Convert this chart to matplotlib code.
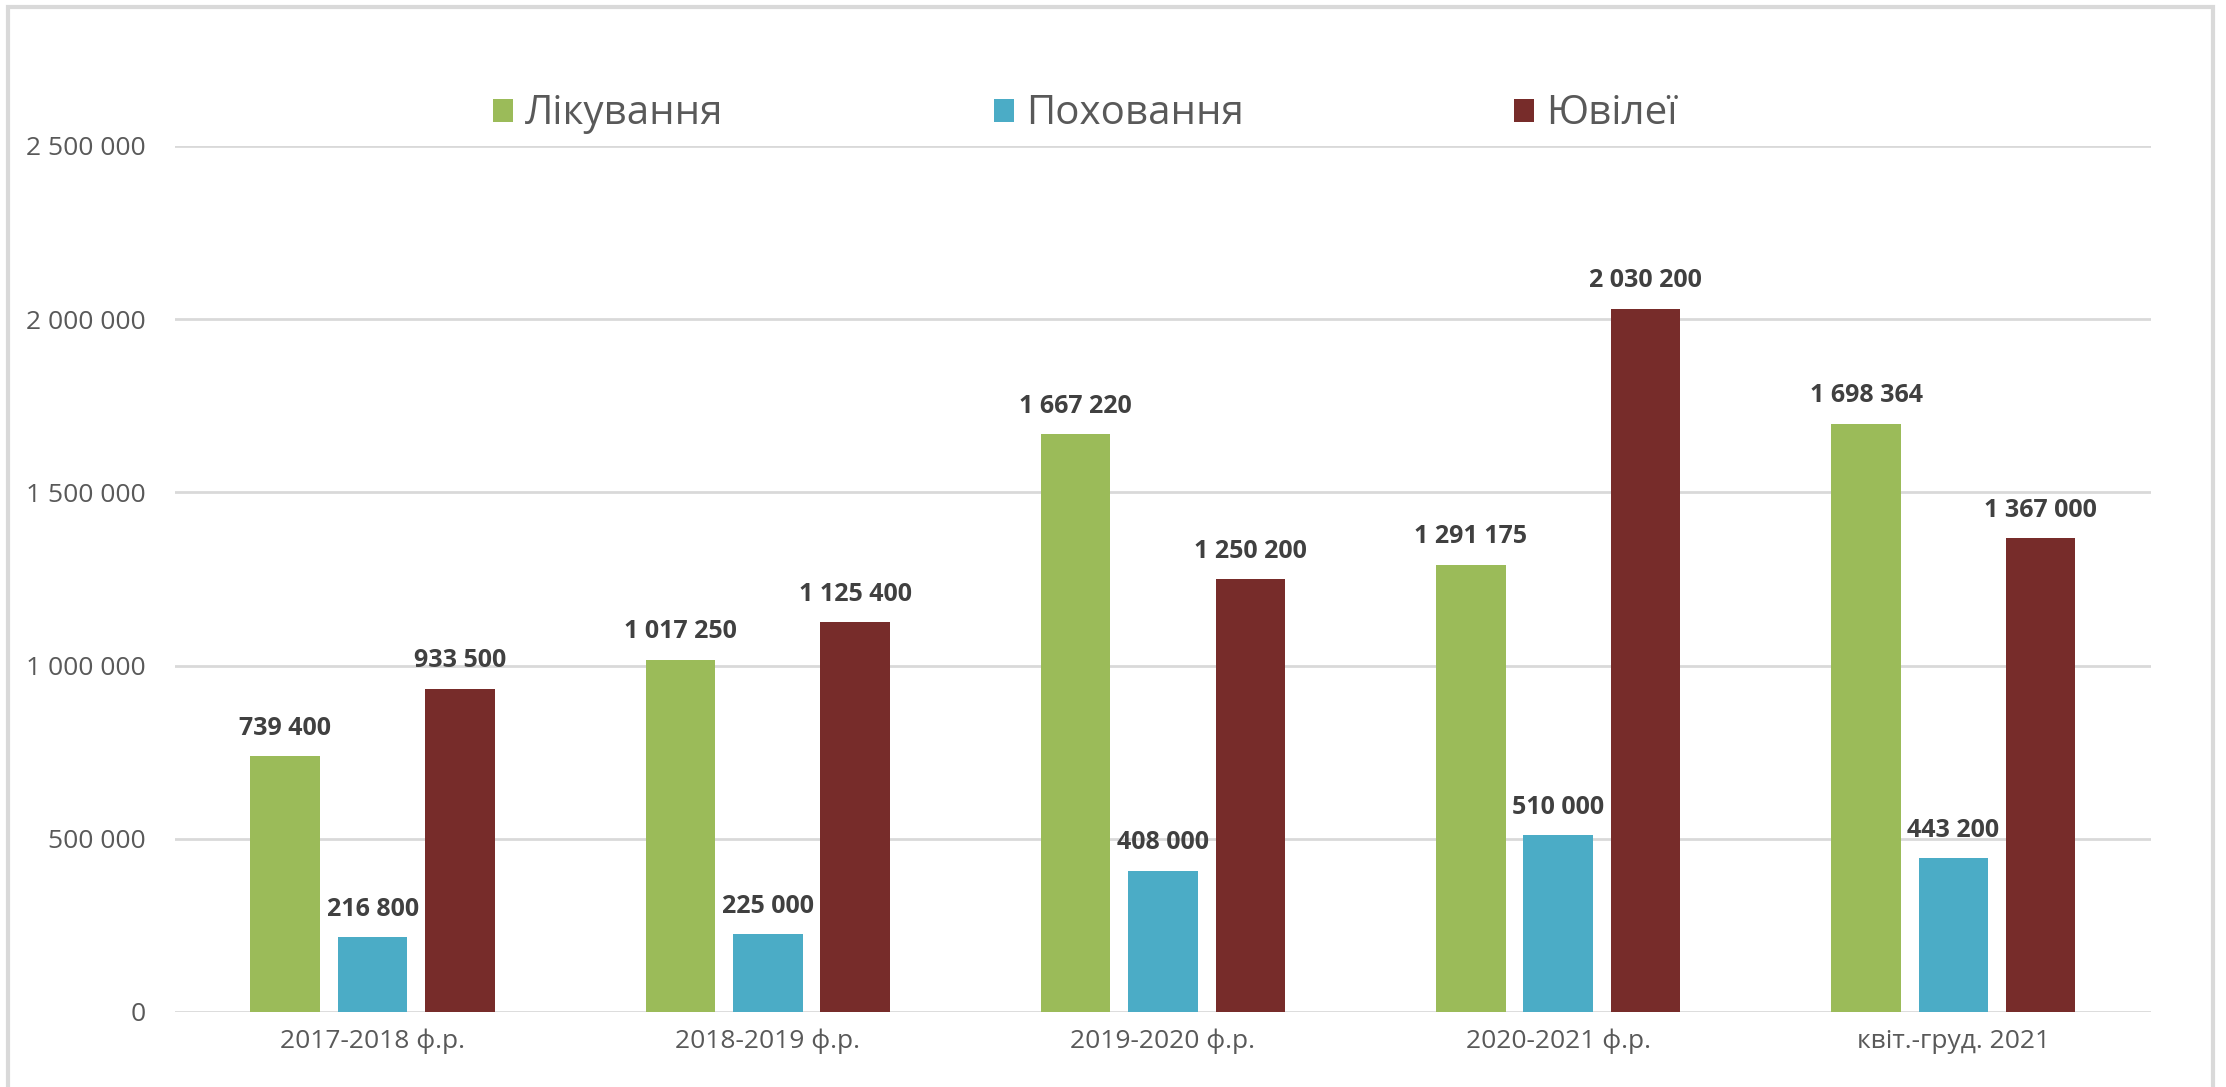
import numpy as np
import matplotlib
matplotlib.use('Agg')
import matplotlib.pyplot as plt
from matplotlib.patches import Rectangle
from matplotlib.ticker import FuncFormatter

plt.rcParams['font.family'] = ['Open Sans', 'DejaVu Sans']

# дані
periods = ['2017-2018 ф.р.', '2018-2019 ф.р.', '2019-2020 ф.р.', '2020-2021 ф.р.', 'квіт.-груд. 2021']
likuvannia = [739400, 1017250, 1667220, 1291175, 1698364]
pokhovannia = [216800, 225000, 408000, 510000, 443200]
yuvilei = [933500, 1125400, 1250200, 2030200, 1367000]
series_names = ['Лікування', 'Поховання', 'Ювілеї']
series_colors = ['#9BBB59', '#4BACC6', '#772C2A']
y_ticks = [0, 500000, 1000000, 1500000, 2000000, 2500000]

fig = plt.figure(figsize=(22.26, 10.87), dpi=100)
ax = fig.add_axes([0.0786, 0.069, 0.8877, 0.7967])

x = np.arange(len(periods))
w = 0.176
off = 0.221
for i, (vals, name, col) in enumerate(zip([likuvannia, pokhovannia, yuvilei], series_names, series_colors)):
    bars = ax.bar(x + (i - 1) * off, vals, w, color=col, label=name, zorder=3)
    labels = [f'{v:,}'.replace(',', ' ') for v in vals]
    ax.bar_label(bars, labels=labels, padding=11, fontsize=18, fontweight='bold', color='#404040')

ax.set_xlim(-0.5, len(periods) - 0.5)
ax.set_ylim(0, 2500000)
ax.set_yticks(y_ticks)
ax.yaxis.set_major_formatter(FuncFormatter(lambda v, p: f'{int(v):,}'.replace(',', ' ')))
ax.set_xticks(x)
ax.set_xticklabels(periods)
ax.tick_params(axis='y', length=0, pad=21, labelsize=19, labelcolor='#595959')
ax.tick_params(axis='x', length=0, pad=12, labelsize=19, labelcolor='#595959')
ax.grid(axis='y', color='#D9D9D9', linewidth=2, zorder=0)
for s in ax.spines.values():
    s.set_visible(False)

# легенда
fig.legend(loc='center', bbox_to_anchor=(0.4875, 0.895), ncol=3, frameon=False,
           fontsize=29, labelcolor='#595959', handlelength=0.5, handleheight=0.5,
           handletextpad=0.3, columnspacing=6.7)

# рамка
fig.patches.append(Rectangle((8 / 2226, -0.05), 2205 / 2226, 1.05 - 7 / 1087,
                             transform=fig.transFigure, fill=False,
                             edgecolor='#D9D9D9', linewidth=3))

fig.savefig('out.png', dpi=100)
